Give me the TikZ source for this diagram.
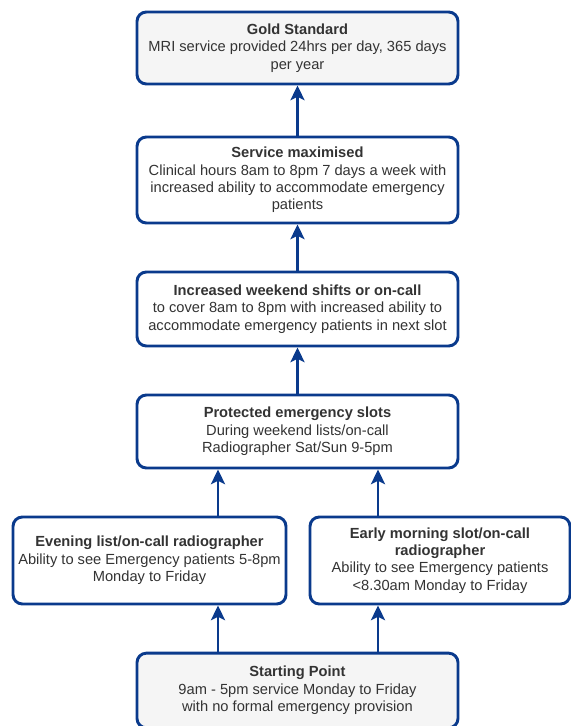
\documentclass[tikz,border=0pt]{standalone}
\usepackage{fontspec}
\setmainfont{Liberation Sans}
\usetikzlibrary{arrows.meta,positioning}
\definecolor{navy}{HTML}{0A3A8C}
\definecolor{paleg}{HTML}{F5F5F5}
\definecolor{txt}{HTML}{333333}

\begin{document}
\begin{tikzpicture}
			[x=0.75pt,y=-0.75pt,font=\fontsize{11}{13}\selectfont,
			box/.style={shape=rectangle,rounded corners=7pt,draw=navy,fill=white,
				line width=2.2pt,align=center,text=txt,inner sep=1pt},
			grey/.style={box,fill=paleg},
			arc/.style={-{Stealth[width=10.5pt,length=11pt,inset=2.5pt]},draw=navy,line width=2.2pt}]
			\useasboundingbox (0,0) rectangle (571,726);
			\clip (0,0) rectangle (571,726);
			
			\node (gold) [grey,minimum width=240.75pt,minimum height=54pt] at (297.5,48)
				{\textbf{Gold Standard}\\MRI service provided 24hrs per day, 365 days\\per year};
			\node (maxim) [box,minimum width=240.75pt,minimum height=64.5pt] at (297.5,180)
				{\textbf{Service maximised}\\Clinical hours 8am to 8pm 7 days a week with\\increased ability to accommodate emergency\\patients};
			\node (weekend) [box,minimum width=240.75pt,minimum height=55.5pt] at (297.5,309)
				{\textbf{Increased weekend shifts or on-call}\\to cover 8am to 8pm with increased ability to\\accommodate emergency patients in next slot};
			\node (protect) [box,minimum width=240.75pt,minimum height=54.75pt] at (297.5,431.5)
				{\textbf{Protected emergency slots}\\During weekend lists/on-call\\Radiographer Sat/Sun 9-5pm};
			
			\node (evening) [box,minimum width=204.75pt,minimum height=65.25pt] at (149.5,560.5)
				{\textbf{Evening list/on-call radiographer}\\Ability to see Emergency patients 5-8pm\\Monday to Friday};
			\node (early) [box,minimum width=195pt,minimum height=65.25pt] at (440,560.5)
				{\textbf{Early morning slot/on-call}\\\textbf{radiographer}\\Ability to see Emergency patients\\<8.30am Monday to Friday};
			
			\node (start) [grey,minimum width=240.75pt,minimum height=56pt] at (297.5,690.5)
				{\textbf{Starting Point}\\9am - 5pm service Monday to Friday\\with no formal emergency provision};
			
			\coordinate (left) at (218,0);
			\coordinate (right) at (378,0);
			
			\draw [arc] (start.north -| left) to (evening.south -| left);
			\draw [arc] (start.north -| right) to (early.south -| right);
			\draw [arc] (evening.north -| left) to (protect.south -| left);
			\draw [arc] (early.north -| right) to (protect.south -| right);
			\draw [arc] (protect) to (weekend);
			\draw [arc] (weekend) to (maxim);
			\draw [arc] (maxim) to (gold);
			\end{tikzpicture}
\end{document}
